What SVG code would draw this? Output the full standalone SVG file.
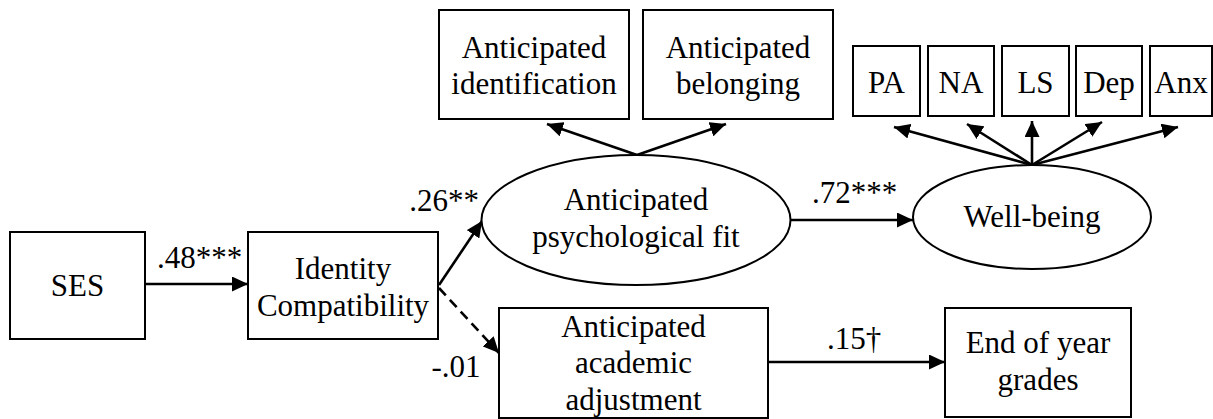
<svg xmlns="http://www.w3.org/2000/svg" width="1213" height="419" viewBox="0 0 1213 419">
  <style>
    .box { fill: #ffffff; stroke: #000000; stroke-width: 2; }
    .oval { fill: #ffffff; stroke: #000000; stroke-width: 2; }
    .t { font-family: "Liberation Serif", "Times New Roman", serif; font-size: 31px; fill: #000000; text-anchor: middle; }
    .lbl { font-family: "Liberation Serif", "Times New Roman", serif; font-size: 31px; fill: #000000; text-anchor: middle; }
    .edge { fill: none; stroke: #000000; stroke-width: 2.6; marker-end: url(#arrow); }
    .dashed { stroke-dasharray: 10 6; }
  </style>
  <defs>
    <marker id="arrow" markerUnits="userSpaceOnUse" markerWidth="17" markerHeight="15" refX="16" refY="7.5" orient="auto">
      <path d="M0,0 L16,7.5 L0,15 z" fill="#000000"/>
    </marker>
  </defs>

  <!-- connectors -->
  <g id="connectors">
    <line class="edge" x1="145" y1="284" x2="248" y2="284"/>
    <line class="edge" x1="439" y1="285" x2="482" y2="221"/>
    <line class="edge dashed" x1="439" y1="288" x2="499" y2="353"/>
    <line class="edge" x1="791" y1="220" x2="913" y2="220"/>
    <line class="edge" x1="768" y1="362" x2="945" y2="362"/>
    <line class="edge" x1="637" y1="155" x2="547" y2="124"/>
    <line class="edge" x1="637" y1="155" x2="726" y2="124"/>
    <line class="edge" x1="1032" y1="165" x2="894" y2="127"/>
    <line class="edge" x1="1032" y1="165" x2="967" y2="124"/>
    <line class="edge" x1="1032" y1="165" x2="1032" y2="121"/>
    <line class="edge" x1="1032" y1="165" x2="1102" y2="122"/>
    <line class="edge" x1="1032" y1="165" x2="1178" y2="127"/>
  </g>

  <!-- path coefficients -->
  <g id="coefficients">
    <text class="lbl" x="199.5" y="268">.48***</text>
    <text class="lbl" x="444" y="211">.26**</text>
    <text class="lbl" x="456" y="377">-.01</text>
    <text class="lbl" x="854.5" y="203">.72***</text>
    <text class="lbl" x="854" y="349">.15†</text>
  </g>

  <g id="ses">
    <rect class="box" x="10" y="232" width="135" height="107"/>
    <text class="t" x="77.5" y="296">SES</text>
  </g>

  <g id="identity-compatibility">
    <rect class="box" x="248" y="232" width="190" height="107"/>
    <text class="t" x="343" y="279">Identity</text>
    <text class="t" x="343" y="316">Compatibility</text>
  </g>

  <g id="psychological-fit">
    <ellipse class="oval" cx="636" cy="220" rx="154.5" ry="65"/>
    <text class="t" x="636" y="210">Anticipated</text>
    <text class="t" x="636" y="247">psychological fit</text>
  </g>

  <g id="anticipated-identification">
    <rect class="box" x="439" y="10" width="190" height="109"/>
    <text class="t" x="534" y="58">Anticipated</text>
    <text class="t" x="534" y="94">identification</text>
  </g>

  <g id="anticipated-belonging">
    <rect class="box" x="643" y="10" width="190" height="109"/>
    <text class="t" x="738" y="58">Anticipated</text>
    <text class="t" x="738" y="94">belonging</text>
  </g>

  <g id="well-being">
    <ellipse class="oval" cx="1032" cy="217" rx="119" ry="52"/>
    <text class="t" x="1032" y="227">Well-being</text>
  </g>

  <g id="pa">
    <rect class="box" x="853" y="46" width="67" height="70"/>
    <text class="t" x="886.5" y="93">PA</text>
  </g>
  <g id="na">
    <rect class="box" x="928" y="46" width="66" height="70"/>
    <text class="t" x="961" y="93">NA</text>
  </g>
  <g id="ls">
    <rect class="box" x="1002" y="46" width="67" height="70"/>
    <text class="t" x="1035.5" y="93">LS</text>
  </g>
  <g id="dep">
    <rect class="box" x="1076" y="46" width="66" height="70"/>
    <text class="t" x="1109" y="93">Dep</text>
  </g>
  <g id="anx">
    <rect class="box" x="1150" y="46" width="62" height="70"/>
    <text class="t" x="1181" y="93">Anx</text>
  </g>

  <g id="academic-adjustment">
    <rect class="box" x="499" y="308" width="269" height="110"/>
    <text class="t" x="633.5" y="337">Anticipated</text>
    <text class="t" x="633.5" y="373">academic</text>
    <text class="t" x="633.5" y="410">adjustment</text>
  </g>

  <g id="grades">
    <rect class="box" x="945" y="308" width="186" height="109"/>
    <text class="t" x="1038" y="353">End of year</text>
    <text class="t" x="1038" y="390">grades</text>
  </g>
</svg>
